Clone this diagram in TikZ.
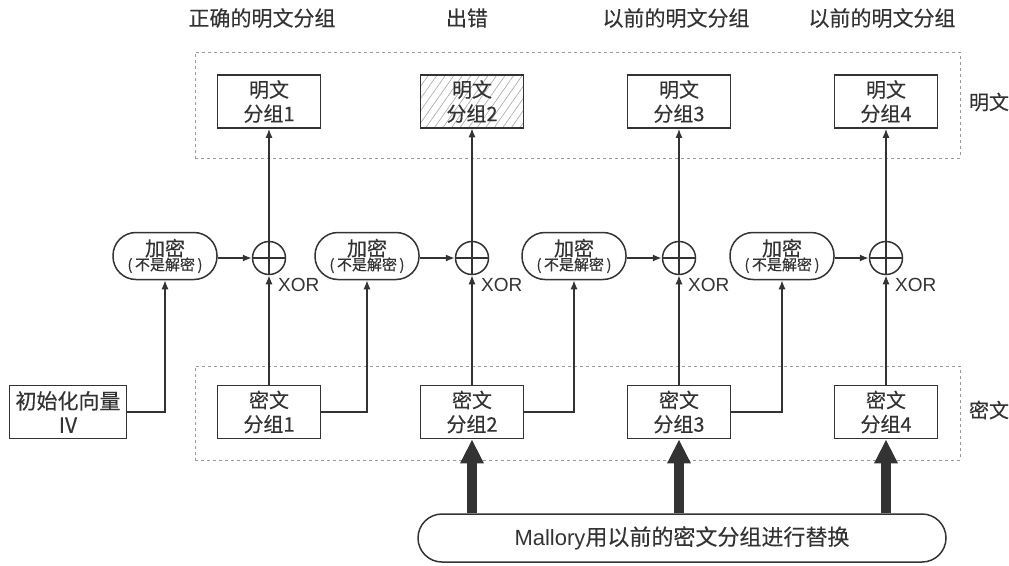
\documentclass[tikz,border=0pt]{standalone}
\usepackage{fontspec}
\setmainfont{Noto Sans CJK SC}[FakeBold=0.25]
\newfontfamily\latinf{Liberation Sans}
\usetikzlibrary{patterns.meta,arrows.meta}
\definecolor{ink}{gray}{0.2}
\tikzset{
  blk/.style={draw=ink, text=ink, line width=1.7pt, minimum width=103pt, minimum height=53pt, align=center, inner sep=0pt, font=\fontsize{20}{24}\selectfont},
  enc/.style={draw=ink, text=ink, line width=1.5pt, rounded corners=23pt, minimum width=104pt, minimum height=47pt, align=center, inner sep=0pt},
  xorc/.style={circle, draw=ink, line width=1.5pt, minimum size=33pt, inner sep=0pt,
    path picture={\draw[ink, line width=1.3pt] (path picture bounding box.north) -- (path picture bounding box.south) (path picture bounding box.west) -- (path picture bounding box.east);}},
  arr/.style={draw=ink, line width=1.3pt, -{Latex[length=9pt,width=7pt]}},
  big/.style={draw=ink, line width=10pt, -{Triangle[length=24pt,width=22pt]}},
  dbox/.style={draw=gray!80, dashed, line width=0.9pt, inner sep=0pt},
  lbl/.style={text=ink, font=\fontsize{21}{24}\selectfont, inner sep=0pt},
  xorl/.style={text=ink, font=\latinf\fontsize{19}{22}\selectfont, inner sep=0pt, anchor=west}
}
\newcommand{\myenctext}{{\fontsize{20}{22}\selectfont 加密}\\[-1pt]{\fontsize{15}{16}\selectfont (\,不是解密\,)}}
\begin{document}
\begin{tikzpicture}[x=1pt,y=-1pt]
\useasboundingbox (0,0) rectangle (1009,565);
% dashed regions
\node[dbox, minimum width=765pt, minimum height=106pt] (pt) at (577.5,105) {};
\node[dbox, minimum width=765pt, minimum height=94pt] (ct) at (577.5,413) {};
% top labels
\node[lbl] (t1) at (262,18) {正确的明文分组};
\node[lbl] (t2) at (467,18) {出错};
\node[lbl] (t3) at (676,18) {以前的明文分组};
\node[lbl] (t4) at (882,18) {以前的明文分组};
\node[lbl, font=\fontsize{20}{24}\selectfont] (rp) at (989,102) {明文};
\node[lbl, font=\fontsize{20}{24}\selectfont] (rc) at (989,410) {密文};
% plaintext blocks
\node[blk] (p1) at (269,101.5) {明文\\分组1};
\node[blk, pattern={Lines[angle=55,distance=7pt,line width=0.6pt]}, pattern color=gray!70] (p2) at (472,101.5) {明文\\分组2};
\node[blk] (p3) at (679,101.5) {明文\\分组3};
\node[blk] (p4) at (886,101.5) {明文\\分组4};
% ciphertext blocks
\node[blk] (c1) at (269,412) {密文\\分组1};
\node[blk] (c2) at (472,412) {密文\\分组2};
\node[blk] (c3) at (679,412) {密文\\分组3};
\node[blk] (c4) at (886,412) {密文\\分组4};
\node[blk, minimum width=117pt, font=\fontsize{21}{24}\selectfont] (iv) at (68,412) {初始化向量\\IV};
% xor
\node[xorc] (x1) at (269,258) {};
\node[xorc] (x2) at (472,258) {};
\node[xorc] (x3) at (679,258) {};
\node[xorc] (x4) at (886,258) {};
\node[xorl] (xl1) at (278,285) {XOR};
\node[xorl] (xl2) at (481,285) {XOR};
\node[xorl] (xl3) at (688,285) {XOR};
\node[xorl] (xl4) at (895,285) {XOR};
% encrypt
\node[enc] (e1) at (165,256) {\myenctext};
\node[enc] (e2) at (367,256) {\myenctext};
\node[enc] (e3) at (574,256) {\myenctext};
\node[enc] (e4) at (782,256) {\myenctext};
% mallory
\node[draw=ink, text=ink, line width=1.5pt, rounded corners=24pt, minimum width=528pt, minimum height=48pt, inner sep=0pt, font=\fontsize{22}{24}\selectfont] (m) at (682,538) {{\latinf Mallory}用以前的密文分组进行替换};
% connectors
\foreach \i in {1,2,3,4}{
  \draw[arr] (c\i) -- (x\i);
  \draw[arr] (x\i) -- (p\i);
  \draw[arr] (e\i.east |- x\i) -- (x\i);
}
\draw[arr] (iv.east) -| (e1.south);
\draw[arr] (c1.east) -| (e2.south);
\draw[arr] (c2.east) -| (e3.south);
\draw[arr] (c3.east) -| (e4.south);
\draw[big] (c2 |- m.north) -- (c2.south);
\draw[big] (c3 |- m.north) -- (c3.south);
\draw[big] (c4 |- m.north) -- (c4.south);
\end{tikzpicture}
\end{document}
